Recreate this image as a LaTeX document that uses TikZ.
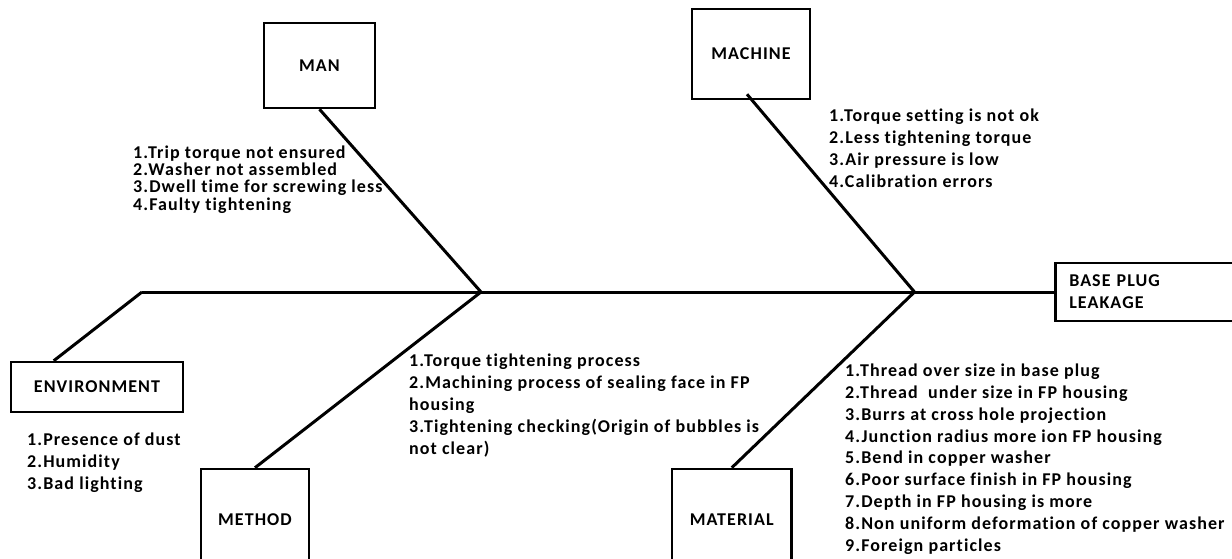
\documentclass[tikz,border=0pt]{standalone}
\usepackage{fontspec}
\setmainfont{Carlito}[LetterSpace=6, Ligatures=NoCommon]
\begin{document}
\begin{tikzpicture}[x=1pt,y=-1pt,
  box/.style={draw, line width=2.5pt, inner sep=0pt, font=\fontsize{18}{22}\selectfont\bfseries},
  bone/.style={line width=3pt},
  list/.style={anchor=north west, inner sep=0pt, align=left, font=\fontsize{18}{22}\selectfont\bfseries}]
\useasboundingbox (0,0) rectangle (1232,559);
% boxes
\node[box, minimum width=111pt, minimum height=85pt] (man) at (319.5,65.5) {MAN};
\node[box, minimum width=118pt, minimum height=90pt] (machine) at (751,54) {MACHINE};
\node[box, minimum width=172pt, minimum height=50pt] (env) at (97,387) {ENVIRONMENT};
\node[box, minimum width=108pt, minimum height=101pt] (method) at (255,519.5) {METHOD};
\node[box, minimum width=119.5pt, minimum height=101pt] (material) at (731.75,519.5) {MATERIAL};
\node[box, anchor=west, text width=177pt, align=left, inner xsep=14pt, minimum height=58pt] (effect) at (1054,292) {BASE PLUG\\LEAKAGE};
% spine
\coordinate (tail) at (142,292);
\coordinate (j1) at (481,292);
\coordinate (j2) at (914.5,292);
\draw[bone] (tail) -- (effect.west);
\draw[bone] (man.south) -- (j1);
\draw[bone] ([xshift=-4pt,yshift=6pt]machine.south) -- (j2);
\draw[bone] ([xshift=44pt]env.north west) -- (tail);
\draw[bone] (method.north) -- (j1);
\draw[bone] (material.north) -- (j2);
% lists
\node[list, font=\fontsize{18}{17.3}\selectfont\bfseries] (manlist) at (133,145.5) {1.Trip torque not ensured\\2.Washer not assembled\\3.Dwell time for screwing less\\4.Faulty tightening};
\node[list] (machlist) at (829,108.5) {1.Torque setting is not ok\\2.Less tightening torque\\3.Air pressure is low\\4.Calibration errors};
\node[list] (methlist) at (409,353.5) {1.Torque tightening process\\2.Machining process of sealing face in FP\\housing\\3.Tightening checking(Origin of bubbles is\\not clear)};
\node[list, font=\fontsize{18}{21.9}\selectfont\bfseries] (matlist) at (845,363.5) {1.Thread over size in base plug\\2.Thread\ \ under size in FP housing\\3.Burrs at cross hole projection\\4.Junction radius more ion FP housing\\5.Bend in copper washer\\6.Poor surface finish in FP housing\\7.Depth in FP housing is more\\8.Non uniform deformation of copper washer\\9.Foreign particles};
\node[list] (envlist) at (27,432.5) {1.Presence of dust\\2.Humidity\\3.Bad lighting};
\end{tikzpicture}
\end{document}
